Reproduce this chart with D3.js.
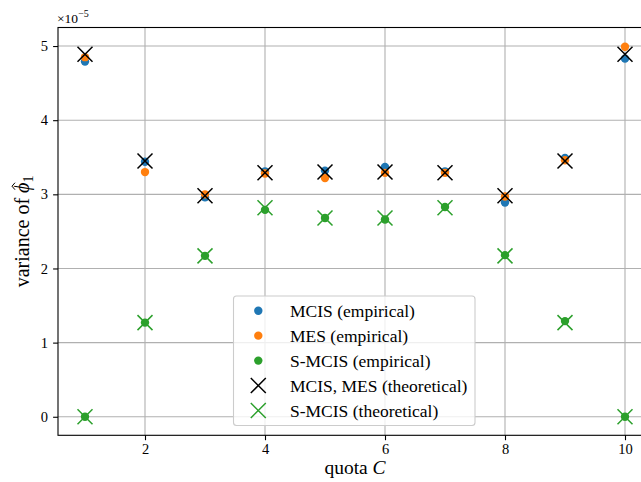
<!DOCTYPE html>
<html>
<head>
<meta charset="utf-8">
<script src="https://cdn.jsdelivr.net/npm/d3@7"></script>
<style>
  html, body { margin: 0; padding: 0; background: #fff; }
  svg { display: block; font-family: "Liberation Serif", "DejaVu Serif", serif; }
</style>
</head>
<body>
<svg id="chart" width="641" height="482"></svg>
<script>
// Quota values on the x axis
const quotas = [1, 2, 3, 4, 5, 6, 7, 8, 9, 10];

// Variance of the estimator (absolute values, shown in units of 1e-5)
const mcisEmpirical  = [4.79e-5, 3.44e-5, 2.96e-5, 3.31e-5, 3.32e-5, 3.37e-5, 3.31e-5, 2.89e-5, 3.49e-5, 4.83e-5];
const mesEmpirical   = [4.85e-5, 3.30e-5, 3.00e-5, 3.28e-5, 3.22e-5, 3.29e-5, 3.29e-5, 2.97e-5, 3.46e-5, 4.99e-5];
const smcisEmpirical = [0.00e-5, 1.27e-5, 2.17e-5, 2.79e-5, 2.68e-5, 2.66e-5, 2.83e-5, 2.18e-5, 1.29e-5, 0.00e-5];
const theoretical    = [4.89e-5, 3.45e-5, 2.98e-5, 3.29e-5, 3.30e-5, 3.30e-5, 3.29e-5, 2.98e-5, 3.45e-5, 4.89e-5];
const smcisTheory    = [0.00e-5, 1.27e-5, 2.17e-5, 2.82e-5, 2.68e-5, 2.68e-5, 2.82e-5, 2.17e-5, 1.27e-5, 0.00e-5];

const xTicks = [2, 4, 6, 8, 10];
const yTicks = [0, 1e-5, 2e-5, 3e-5, 4e-5, 5e-5];
const yExponent = -5;

const legendLabels = [
  "MCIS (empirical)",
  "MES (empirical)",
  "S-MCIS (empirical)",
  "MCIS, MES (theoretical)",
  "S-MCIS (theoretical)"
];

const BLUE = "#1f77b4", ORANGE = "#ff7f0e", GREEN = "#2ca02c", BLACK = "#000000";

const svg = d3.select("#chart");

const plot = { left: 58, right: 652, top: 27.5, bottom: 435.3 };

const x = d3.scaleLinear().domain([0.55, 10.45]).range([plot.left, plot.right]);
const y = d3.scaleLinear().domain([-0.25e-5, 5.25e-5]).range([plot.bottom, plot.top]);

// Grid
const grid = svg.append("g").attr("stroke", "#b0b0b0").attr("stroke-width", 1.1);
grid.selectAll("line.gx").data(xTicks).join("line")
  .attr("x1", d => x(d)).attr("x2", d => x(d))
  .attr("y1", plot.top).attr("y2", plot.bottom);
grid.selectAll("line.gy").data(yTicks).join("line")
  .attr("y1", d => y(d)).attr("y2", d => y(d))
  .attr("x1", plot.left).attr("x2", plot.right);

// Axes
const scaleFactor = Math.pow(10, -yExponent);
const xAxis = d3.axisBottom(x).tickValues(xTicks).tickSize(4.9).tickPadding(3.5).tickFormat(d3.format("d"));
const yAxis = d3.axisLeft(y).tickValues(yTicks).tickSize(4.9).tickPadding(5)
  .tickFormat(d => d3.format("d")(Math.round(d * scaleFactor)));

const gx = svg.append("g").attr("transform", `translate(0,${plot.bottom})`).call(xAxis);
const gy = svg.append("g").attr("transform", `translate(${plot.left},0)`).call(yAxis);
[gx, gy].forEach(g => {
  g.attr("font-family", null).attr("font-size", null);
  g.select(".domain").remove();
  g.selectAll(".tick line").attr("stroke", "#000").attr("stroke-width", 1.1);
  g.selectAll(".tick text").attr("fill", "#000")
    .style("font-family", "'Liberation Serif', serif").style("font-size", "14.5px");
});

// Markers
function dots(values, color) {
  svg.append("g").selectAll("circle").data(quotas).join("circle")
    .attr("cx", d => x(d)).attr("cy", (d, i) => y(values[i]))
    .attr("r", 4.2).attr("fill", color);
}
function crossPath(cx, cy, s) {
  return `M${cx - s},${cy - s}L${cx + s},${cy + s}M${cx - s},${cy + s}L${cx + s},${cy - s}`;
}
function crosses(values, color) {
  svg.append("g").attr("stroke", color).attr("stroke-width", 1.5).attr("fill", "none")
    .selectAll("path").data(quotas).join("path")
    .attr("d", (d, i) => crossPath(x(d), y(values[i]), 7.5));
}
dots(mcisEmpirical, BLUE);
dots(mesEmpirical, ORANGE);
dots(smcisEmpirical, GREEN);
crosses(theoretical, BLACK);
crosses(smcisTheory, GREEN);

// Spines
svg.append("rect")
  .attr("x", plot.left).attr("y", plot.top)
  .attr("width", plot.right - plot.left).attr("height", plot.bottom - plot.top)
  .attr("stroke", "#000").attr("stroke-width", 1.1).attr("fill", "none");

// Offset text for the y axis
const off = svg.append("text").attr("x", plot.left - 1).attr("y", 23)
  .style("font-size", "13.5px").attr("fill", "#000");
off.append("tspan").text("\u00d710");
off.append("tspan").attr("dy", -6).style("font-size", "10px").text("\u2212" + Math.abs(yExponent));

// Axis labels
svg.append("text")
  .attr("x", (plot.left + plot.right) / 2).attr("y", 473.5)
  .attr("text-anchor", "middle").style("font-size", "19.5px").attr("fill", "#000")
  .call(t => {
    t.append("tspan").text("quota ");
    t.append("tspan").style("font-style", "italic").text("C");
  });

const ylg = svg.append("g")
  .attr("transform", `translate(29,${(plot.top + plot.bottom) / 2}) rotate(-90)`);
const yl = ylg.append("text")
  .attr("text-anchor", "middle").style("font-size", "20px").attr("fill", "#000");
const prefix = "variance of ";
yl.append("tspan").text(prefix);
yl.append("tspan").style("font-style", "italic").text("\u03d5");
yl.append("tspan").attr("dy", 4).style("font-size", "14px").text("1");
// Circumflex accent over the phi
{
  const node = yl.node();
  const i = prefix.length;
  const p0 = node.getStartPositionOfChar(i);
  const p1 = node.getEndPositionOfChar(i);
  const cx = (p0.x + p1.x) / 2 + 1.5;
  const top = p0.y - 17;
  ylg.append("path")
    .attr("d", `M${cx - 3.5},${top + 3}L${cx},${top}L${cx + 3.5},${top + 3}`)
    .attr("stroke", "#000").attr("stroke-width", 1).attr("fill", "none");
}

// Legend
const lg = svg.append("g");
lg.append("rect")
  .attr("x", 233.5).attr("y", 296).attr("width", 241.5).attr("height", 129.5)
  .attr("rx", 3).attr("fill", "#fff").attr("fill-opacity", 0.8)
  .attr("stroke", "#cccccc").attr("stroke-width", 1.1);

const legendRows = d3.scaleLinear().domain([0, 4]).range([310.7, 410.5]);
const legendKinds = [
  { type: "dot", color: BLUE },
  { type: "dot", color: ORANGE },
  { type: "dot", color: GREEN },
  { type: "cross", color: BLACK },
  { type: "cross", color: GREEN }
];
legendLabels.forEach((label, i) => {
  const cy = legendRows(i), cx = 258.3, k = legendKinds[i];
  if (k.type === "dot") {
    lg.append("circle").attr("cx", cx).attr("cy", cy).attr("r", 4.2).attr("fill", k.color);
  } else {
    lg.append("path").attr("d", crossPath(cx, cy, 7.5))
      .attr("stroke", k.color).attr("stroke-width", 1.5).attr("fill", "none");
  }
  lg.append("text").attr("x", 290).attr("y", cy + 6)
    .style("font-size", "17.5px").attr("fill", "#000").text(label);
});
</script>
</body>
</html>
